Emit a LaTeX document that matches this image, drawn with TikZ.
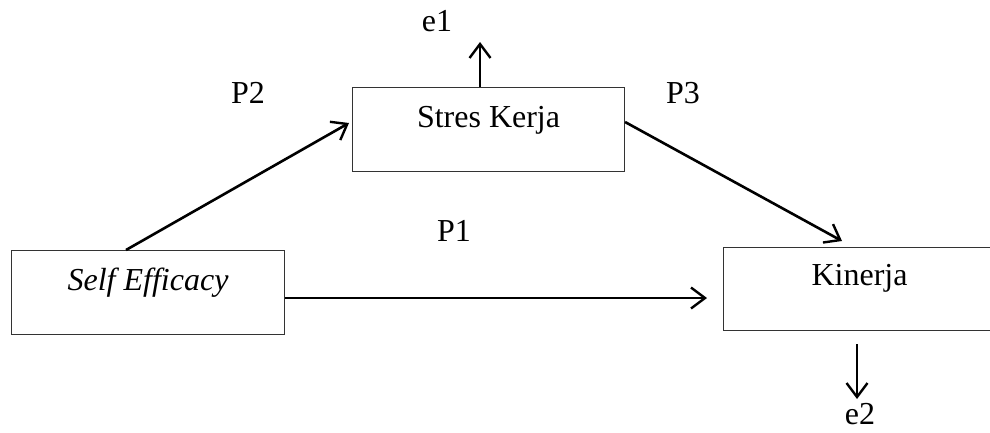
\documentclass[tikz,border=0pt]{standalone}
\usepackage{fontspec}
\setmainfont{Liberation Serif}
\usetikzlibrary{arrows.meta,calc}
\begin{document}
\begin{tikzpicture}[x=1pt,y=-1pt,
  box/.style={draw=black!80,line width=1.1pt,rectangle,inner sep=0pt,minimum width=272pt,anchor=north west,
    font=\fontsize{32}{38}\selectfont},
  lbl/.style={inner sep=0pt,font=\fontsize{32}{38}\selectfont},
  arr/.style={line width=2.6pt,-{Straight Barb[length=14pt,width=21pt,line width=2.4pt]}}]
\path[use as bounding box] (0,0) rectangle (990,432);
\clip (0,0) rectangle (990,432);
\node[box,text height=40pt,text depth=44pt] (sk) at (352,87) {Stres Kerja};
\node[box,text height=40pt,text depth=44pt,minimum width=273pt] (se) at (11,250) {\itshape Self Efficacy};
\node[box,text height=38pt,text depth=45pt] (kin) at (723,247) {Kinerja};
\coordinate (e1tip) at (480,42);
\coordinate (e2start) at (857,344);
\coordinate (e2tip) at (857,399);
\coordinate (p1end) at (707,298);
\node[lbl] (e1) at (437,21) {e1};
\node[lbl] (e2) at (860,414) {e2};
\node[lbl] (p1) at (454,231) {P1};
\node[lbl] (p2) at (248,93) {P2};
\node[lbl] (p3) at (683,93) {P3};
\draw[arr] (sk.north -| e1tip) -- (e1tip);
\draw[arr] (e2start) -- (e2tip);
\draw[arr] (se.east |- p1end) -- (p1end);
\draw[arr] ($(se.north west)+(115,0)$) -- ($(sk.north west)+(-3,36)$);
\draw[arr] ($(sk.north east)+(0,35)$) -- ($(kin.north west)+(119,-6)$);
\end{tikzpicture}
\end{document}
